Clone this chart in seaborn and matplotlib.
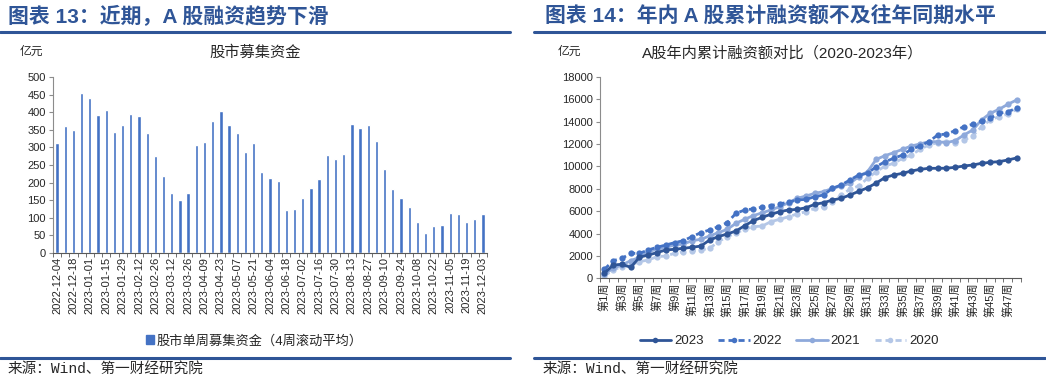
import matplotlib
matplotlib.use("Agg")
import matplotlib.pyplot as plt
from matplotlib.lines import Line2D
from matplotlib.patches import Rectangle
import numpy as np
import pandas as pd
import seaborn as sns

# ---- data: left chart (weekly fund raising, 4-week rolling mean, 亿元)
week_dates = pd.date_range("2022-12-04", periods=53, freq="7D").strftime("%Y-%m-%d").tolist()
fund_4w = [314, 361, 349, 455, 440, 393, 406, 343, 364, 394,
           389, 340, 277, 218, 169, 151, 170, 306, 316, 376,
           405, 363, 342, 286, 313, 229, 213, 205, 121, 124,
           155, 184, 210, 278, 266, 280, 366, 356, 363, 317,
           239, 182, 157, 130, 87, 56, 76, 78, 114, 110,
           88, 96, 110]

# ---- data: right chart (cumulative financing by week, 亿元)
week_labels = [f"第{i}周" for i in range(1, 49)]
y2023 = [450, 1190, 1250, 980, 1880, 2080, 2290, 2530, 2590, 2680,
         2770, 2880, 3420, 3720, 3960, 4220, 4700, 5150, 5450, 5715,
         5950, 6100, 6150, 6305, 6605, 6750, 6990, 7140, 7440, 7760,
         8080, 8510, 9000, 9224, 9374, 9580, 9730, 9820, 9820, 9830,
         9909, 10028, 10117, 10266, 10355, 10415, 10564, 10743]
y2022 = [800, 1575, 1780, 2230, 2230, 2530, 2770, 2975, 3180, 3360,
         3720, 4075, 4315, 4610, 4965, 5800, 6100, 6200, 6350, 6500,
         6650, 6800, 6990, 7050, 7290, 7440, 8035, 8330, 8780, 9225,
         9375, 9970, 10415, 10715, 11010, 11520, 11815, 12200, 12797, 12886,
         13185, 13540, 13750, 14050, 14290, 14735, 14880, 15180]
y2021 = [385, 890, 1190, 1575, 1870, 2380, 2590, 2770, 2975, 3060,
         3360, 3480, 3780, 4075, 4370, 4910, 5270, 5600, 5850, 6100,
         6400, 6750, 7145, 7350, 7590, 7740, 8035, 8245, 8480, 9075,
         9520, 10625, 10950, 11220, 11520, 11815, 11995, 12200, 12200, 12110,
         12290, 12797, 13245, 14140, 14735, 15090, 15540, 15920]
y2020 = [205, 740, 1040, 1190, 1485, 1635, 1930, 1990, 2230, 2380,
         2470, 2530, 2680, 3270, 3720, 4020, 4400, 4600, 4670, 5060,
         5270, 5500, 5750, 5950, 6250, 6395, 6840, 7440, 7950, 8245,
         8930, 9520, 10030, 10270, 10715, 11010, 11520, 11905, 12110, 12200,
         12110, 12350, 12707, 13540, 14140, 14430, 14670, 15090]
years = ["2023", "2022", "2021", "2020"]
year_colors = ["#2F5597", "#4472C4", "#8EA9DB", "#B4C7E7"]
year_styles = ["-", (0, (2.2, 1.4)), "-", (0, (2.2, 1.4))]

sns.set_style("white")
plt.rcParams["font.family"] = ["Liberation Sans", "Noto Sans CJK SC"]
plt.rcParams["axes.unicode_minus"] = False

W, H = 1046, 382
def fx(px):
    return px / W
def fy(py):
    return 1 - py / H

title_blue = "#2F5597"
cjk = ["Liberation Sans", "Noto Sans CJK SC"]
mono_cjk = ["Liberation Mono", "Noto Sans CJK SC"]

fig = plt.figure(figsize=(10.46, 3.82), dpi=100)

# titles, rules, units, footers
fig.text(fx(8), fy(17), "图表 13：近期，A 股融资趋势下滑", fontsize=15, fontweight="bold",
         color=title_blue, va="center", ha="left", family=cjk)
fig.text(fx(545), fy(17), "图表 14：年内 A 股累计融资额不及往年同期水平", fontsize=15,
         fontweight="bold", color=title_blue, va="center", ha="left", family=cjk)
for x0, x1 in [(0, 510), (534, 1045)]:
    fig.add_artist(Line2D([fx(x0), fx(x1)], [fy(31.5), fy(31.5)], color=title_blue, lw=2.2))
    fig.add_artist(Line2D([fx(x0), fx(x1)], [fy(358), fy(358)], color=title_blue, lw=2.2))
fig.text(fx(8), fy(370), "来源：Wind、第一财经研究院", fontsize=10.5, va="center", family=mono_cjk)
fig.text(fx(543), fy(370), "来源：Wind、第一财经研究院", fontsize=10.5, va="center", family=mono_cjk)
fig.text(fx(20), fy(52), "亿元", fontsize=8.5, va="center")
fig.text(fx(558), fy(52), "亿元", fontsize=8.5, va="center")
fig.text(fx(255), fy(53), "股市募集资金", fontsize=11, va="center", ha="center")
fig.text(fx(783), fy(53), "A股年内累计融资额对比（2020-2023年）", fontsize=11, va="center", ha="center")

# ---- left: bar chart
ax1 = fig.add_axes([fx(53), fy(252.7), (487 - 53) / W, (252.7 - 77.3) / H])
sns.barplot(x=week_dates, y=fund_4w, color="#4472C4", saturation=1, width=0.4, ax=ax1)
ax1.set_xlim(-0.5, 52.5)
ax1.set_ylim(0, 500)
ax1.set_yticks(range(0, 501, 50))
ax1.set_xticks(range(0, 53, 2))
ax1.set_xticklabels(week_dates[::2], rotation=90, fontsize=8)
ax1.set_xticks(np.arange(-0.5, 53, 1), minor=True)
ax1.set_xlabel("")
ax1.set_ylabel("")

# ---- right: cumulative lines
ax2 = fig.add_axes([fx(600), fy(278.3), 421 / W, (278.3 - 76.7) / H])
xs = np.arange(48)
series = [y2023, y2022, y2021, y2020]
for k in [3, 2, 1, 0]:
    sns.lineplot(x=xs, y=series[k], ax=ax2, color=year_colors[k], linestyle=year_styles[k],
                 linewidth=2, marker="o", markersize=4.5, markeredgewidth=0)
ax2.set_xlim(-0.5, 47.5)
ax2.set_ylim(0, 18000)
ax2.set_yticks(range(0, 18001, 2000))
ax2.set_xticks(range(0, 48, 2))
ax2.set_xticklabels(week_labels[::2], rotation=90, fontsize=8)
ax2.set_xticks(np.arange(-0.5, 48, 1), minor=True)
ax2.set_xlabel("")
ax2.set_ylabel("")

for ax in (ax1, ax2):
    for s in ("top", "right"):
        ax.spines[s].set_visible(False)
    ax.spines["left"].set_color("#8c8c8c")
    ax.spines["bottom"].set_color("#595959")
    ax.tick_params(axis="y", labelsize=8, length=3, direction="out", left=True, color="#8c8c8c", pad=2)
    ax.tick_params(axis="x", which="major", length=0, pad=3)
    ax.tick_params(axis="x", which="minor", length=3, direction="out", bottom=True, color="#595959")

# legends
h1 = [Rectangle((0, 0), 1, 1, color="#4472C4")]
ax1.legend(h1, ["股市单周募集资金（4周滚动平均）"], loc="center", bbox_to_anchor=(fx(254), fy(341)),
           bbox_transform=fig.transFigure, frameon=False, fontsize=9.5,
           handlelength=0.6, handleheight=0.6, handletextpad=0.2)
h2 = [Line2D([0], [0], color=year_colors[k], linestyle=year_styles[k], lw=2, marker="o",
             markersize=4, markeredgewidth=0) for k in range(4)]
ax2.legend(h2, years, loc="center", bbox_to_anchor=(fx(789), fy(341)), bbox_transform=fig.transFigure,
           frameon=False, fontsize=9.5, ncol=4, handlelength=2.4, handletextpad=0.2, columnspacing=1.1)

fig.savefig("out.png", dpi=100)
